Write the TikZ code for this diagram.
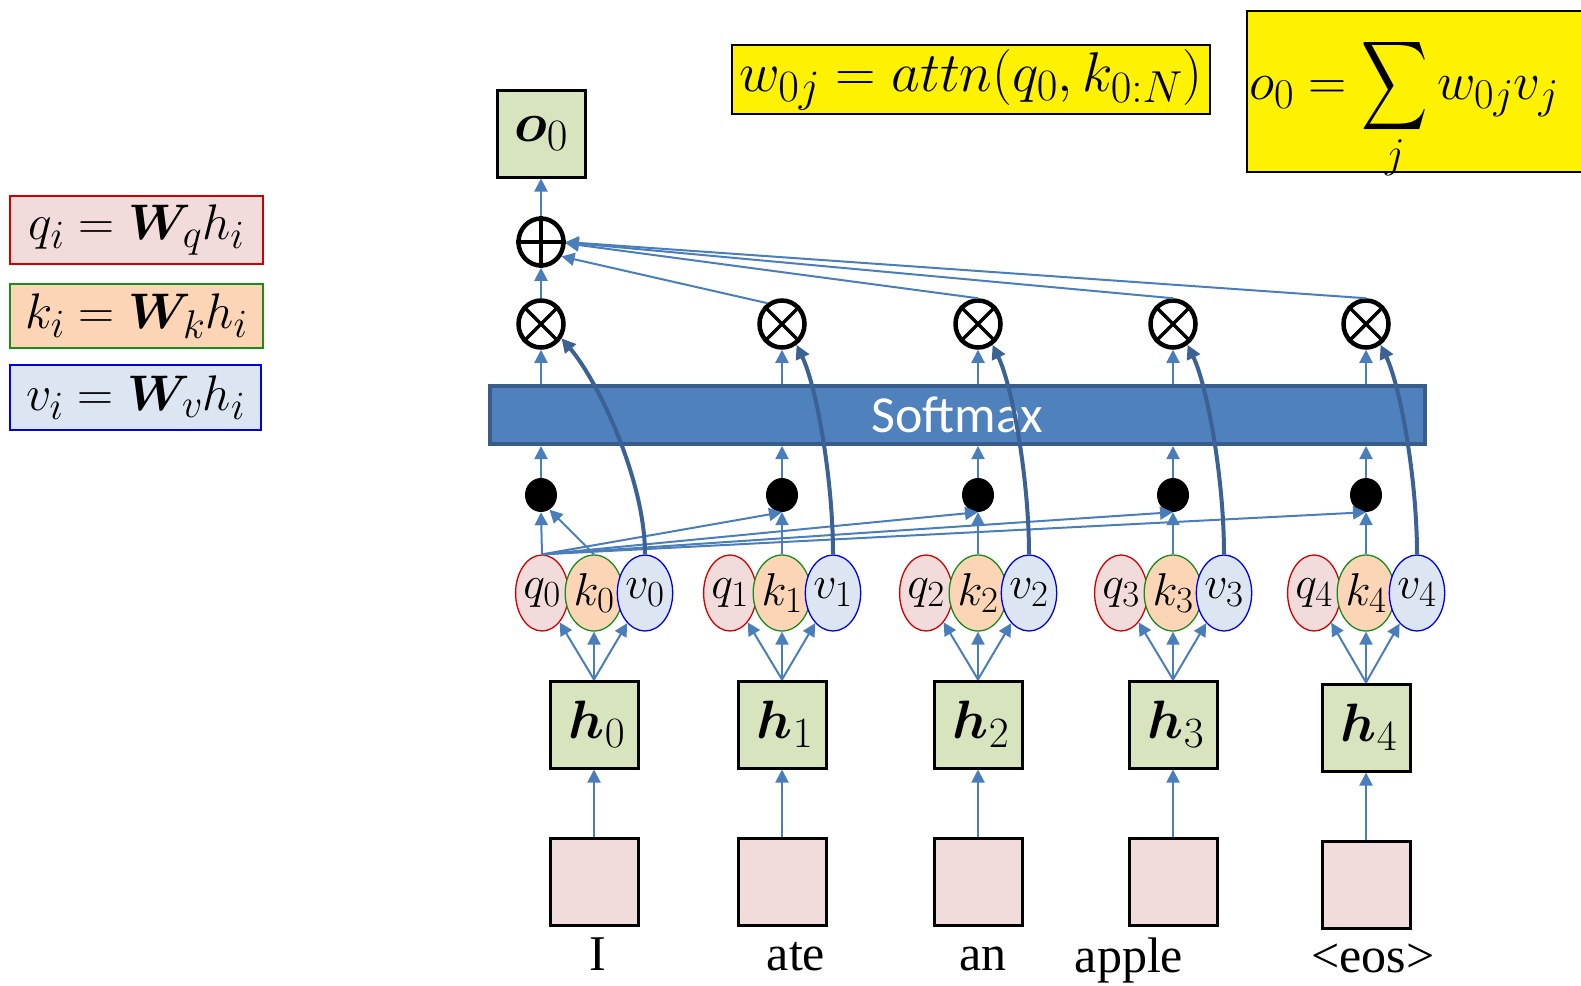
\RequirePackage{fix-cm}
\documentclass[tikz,border=0pt]{standalone}
\usepackage{amsmath,bm}
\usepackage[no-math]{fontspec}
\setmainfont{Liberation Serif}
\newfontfamily\smfont{Carlito}
\usetikzlibrary{arrows.meta,shapes.geometric,calc}
\renewcommand\defaultscriptratio{.8}
\newcommand\fsz[1]{\fontsize{#1}{#1}\selectfont}
\definecolor{arrc}{HTML}{4A7EBB}
\definecolor{vc}{HTML}{3B6195}
\definecolor{smfill}{HTML}{4F81BD}
\definecolor{smline}{HTML}{385D8A}
\definecolor{boxgreen}{HTML}{D7E4BD}
\definecolor{boxpink}{HTML}{F2DCDB}
\definecolor{qfill}{HTML}{F2DCDB}
\definecolor{qline}{HTML}{D00000}
\definecolor{kfill}{HTML}{FBD5B5}
\definecolor{kline}{HTML}{1A8C1A}
\definecolor{vfill}{HTML}{DCE6F2}
\definecolor{vline}{HTML}{0000E0}
\tikzset{
  arr/.style={draw=arrc, line width=2pt, -{Triangle[length=13pt,width=13pt]}},
  varr/.style={draw=vc, line width=4pt, -{Triangle[length=14pt,width=14pt]}},
  sqbox/.style={draw=black, line width=3pt, minimum width=88pt, minimum height=87pt, inner sep=0pt},
  hbox/.style={sqbox, fill=boxgreen},
  ebox/.style={sqbox, fill=boxpink},
  ell/.style={ellipse, minimum width=47pt, minimum height=76pt, inner sep=0pt, line width=1.3pt, font=\fsz{46}},
  qell/.style={ell, draw=qline, fill=qfill},
  kell/.style={ell, draw=kline, fill=kfill},
  vell/.style={ell, draw=vline, fill=vfill},
  opnode/.style={ellipse, draw=black, line width=4.5pt, fill=white, minimum width=45pt, minimum height=47pt, inner sep=0pt},
  dotnode/.style={ellipse, fill=black, minimum width=32pt, minimum height=34pt, inner sep=0pt},
  fbox/.style={line width=2pt, inner sep=0pt, font=\fsz{50}},
  ybox/.style={draw=black, fill=yellow, line width=2pt, inner sep=0pt},
  word/.style={anchor=base, inner sep=0pt, font=\fsz{50}},
}
\begin{document}
\begin{tikzpicture}[x=1pt,y=-1pt]
\useasboundingbox (0,0) rectangle (1581,985);

% left formula boxes
\node[fbox, draw=qline, fill=qfill, minimum width=253pt, minimum height=68pt] (fq) at (136.5,230) {$q_i = \bm{W}_{q} h_i$};
\node[fbox, draw=kline, fill=kfill, minimum width=253pt, minimum height=64pt] (fk) at (136.5,316) {$k_i = \bm{W}_{k} h_i$};
\node[fbox, draw=vline, fill=vfill, minimum width=251pt, minimum height=65pt] (fv) at (135.5,397.5) {$v_i = \bm{W}_{v} h_i$};

% top formula boxes
\node[ybox, minimum width=478pt, minimum height=69pt, font=\fsz{56}] (wbox) at (971,79.5) {$w_{0j} = attn(q_0, k_{0:N})$};
\node[ybox, minimum width=345pt, minimum height=161pt, anchor=north west] (obox) at (1246,10) {};
\node[anchor=base west, inner sep=0pt, font=\fsz{53}] (otext) at (1249,99) {$o_0 = \mathop{\vcenter{\hbox{\scalebox{1.85}[2.5]{$\displaystyle\sum$}}}}\limits_j w_{0j}v_j$};

% output
\node[hbox, font=\fsz{56}] (o0) at (541,133.5) {$\bm{o}_0$};
\node[opnode] (plus) at (541,242) {};
\draw[line width=3.5pt] (plus.north) -- (plus.south) (plus.west) -- (plus.east);

% softmax
\node[draw=smline, fill=smfill, line width=4pt, minimum width=935pt, minimum height=58pt, inner sep=0pt, text=white, font=\smfont\fsz{52}] (sm) at (957.5,415) {Softmax};

\foreach \i/\X/\c/\hy/\ey in {0/594/541/724.5/882, 1/782/782/724.5/882, 2/978/978/724.5/882, 3/1173/1173/724.5/882, 4/1366/1366/727.5/885} {
  \node[ebox] (e\i) at (\X,\ey) {};
  \node[hbox, font=\fsz{54}] (h\i) at (\X,\hy) {\hspace{6pt}$\bm{h}_{\i}$};
  \node[qell] (q\i) at ({\X-52},593) {$q_{\i}$};
  \node[kell] (k\i) at (\X,593) {$k_{\i}$};
  \node[vell] (v\i) at ({\X+51},593) {$v_{\i}$};
  \node[dotnode] (d\i) at (\c,495) {};
  \node[opnode] (x\i) at (\c,324) {};
  \draw[line width=3.5pt] (x\i.45) -- (x\i.225) (x\i.135) -- (x\i.315);
  \draw[arr] (e\i.north) -- (h\i.south);
  \draw[arr] (h\i.north) -- (q\i);
  \draw[arr] (h\i.north) -- (k\i.south);
  \draw[arr] (h\i.north) -- (v\i);
  \draw[arr] (d\i.north) -- (d\i.north |- sm.south);
  \draw[arr] (x\i |- sm.north) -- (x\i.south);
}

% dot-product inputs
\draw[arr] (q0.north) -- (d0.south);
\draw[arr] (k0.north) -- (d0.-60);
\foreach \i in {1,2,3,4} {
  \draw[arr] (q0.north) -- (d\i.south);
  \draw[arr] (k\i.north) -- (d\i.south);
}

% values to products
\draw[varr] (v0.north) .. controls +(0,-75) and +(36,42) .. (x0.-35);
\foreach \i in {1,2,3,4} {
  \draw[varr] (v\i.north) .. controls +(0,-75) and +(20,42) .. (x\i.-55);
}

% products to sum
\draw[arr] (x0.north) -- (plus.south);
\draw[arr] (x1.125) -- (plus.-35);
\draw[arr] (x2.north) -- (plus.-3);
\draw[arr] (x3.north) -- (plus.-1);
\draw[arr] (x4.north) -- (plus.0);
\draw[arr] (plus.north) -- (o0.south);

% words
\node[word] (w0) at (598,970) {I};
\node[word] (w1) at (796,970) {ate};
\node[word] (w2) at (983,970) {an};
\node[word] (w3) at (1129,972) {apple};
\node[word] (w4) at (1373,972) {<eos>};
\end{tikzpicture}
\end{document}
